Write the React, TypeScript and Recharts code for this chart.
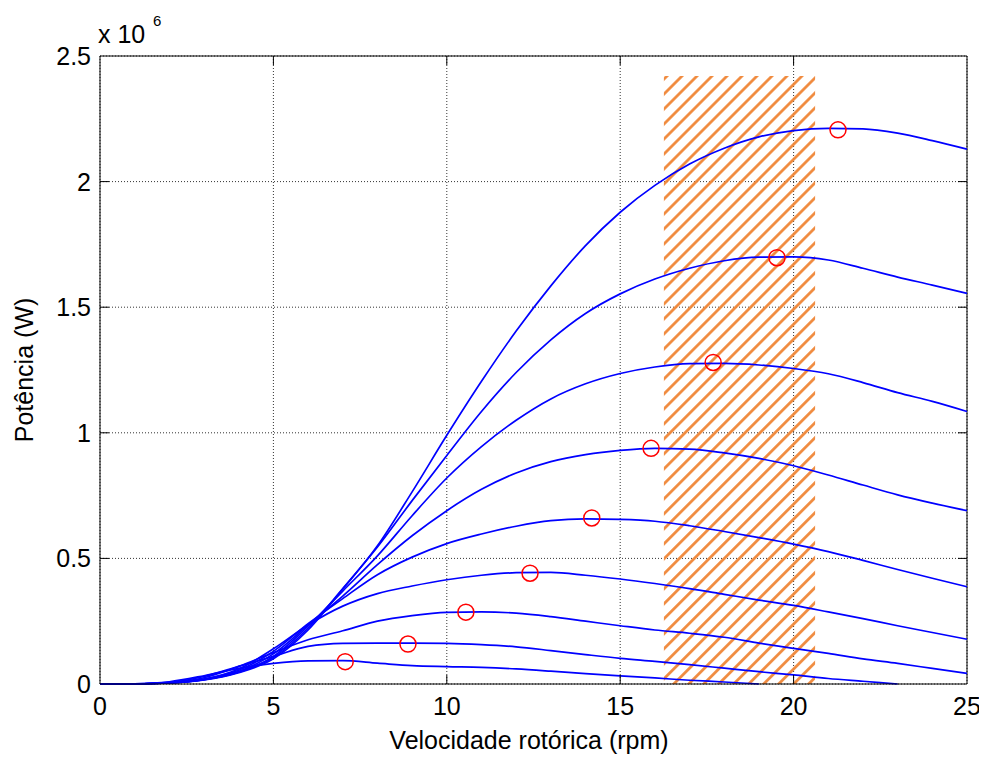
import React from 'react';
import {
  ComposedChart,
  Line,
  Scatter,
  XAxis,
  YAxis,
  CartesianGrid,
  ReferenceArea,
  ReferenceLine,
} from 'recharts';

// rotor speed (rpm)
const rpm = [0, 1, 2, 3, 4, 5, 6, 7, 8, 9, 10, 11, 12, 13, 14, 15, 16, 17, 18, 19, 20, 21, 22, 23, 24, 25];

// power curves (x 10^6 W), one per wind speed
const c1 = [0, 0.001, 0.009, 0.033, 0.062, 0.082, 0.092, 0.093, 0.083, 0.073, 0.069, 0.066, 0.06, 0.051, 0.041, 0.032, 0.024, 0.015, 0.008, 0, null, null, null, null, null, null];
const c2 = [0, 0.0008, 0.007, 0.03, 0.07, 0.11, 0.15, 0.162, 0.163, 0.163, 0.162, 0.157, 0.148, 0.133, 0.117, 0.102, 0.09, 0.077, 0.063, 0.049, 0.036, 0.022, 0.011, 0, null, null];
const c3 = [0, 0.0007, 0.006, 0.025, 0.07, 0.125, 0.176, 0.212, 0.25, 0.272, 0.285, 0.287, 0.282, 0.268, 0.25, 0.232, 0.215, 0.202, 0.186, 0.163, 0.142, 0.122, 0.1, 0.082, 0.062, 0.042];
const c4 = [0, 0.0006, 0.005, 0.02, 0.06, 0.14, 0.235, 0.31, 0.36, 0.39, 0.415, 0.433, 0.443, 0.444, 0.433, 0.418, 0.4, 0.38, 0.357, 0.334, 0.313, 0.287, 0.26, 0.232, 0.205, 0.178];
const c5 = [0, 0.0006, 0.005, 0.019, 0.055, 0.13, 0.24, 0.34, 0.435, 0.505, 0.559, 0.597, 0.628, 0.65, 0.657, 0.655, 0.648, 0.63, 0.607, 0.583, 0.557, 0.527, 0.492, 0.456, 0.421, 0.387];
const c6 = [0, 0.0005, 0.005, 0.018, 0.05, 0.12, 0.235, 0.35, 0.475, 0.59, 0.69, 0.775, 0.84, 0.885, 0.913, 0.93, 0.938, 0.935, 0.92, 0.898, 0.869, 0.832, 0.792, 0.753, 0.72, 0.69];
const c7 = [0, 0.0005, 0.004, 0.017, 0.048, 0.11, 0.23, 0.37, 0.51, 0.67, 0.82, 0.945, 1.05, 1.135, 1.195, 1.236, 1.262, 1.275, 1.276, 1.27, 1.256, 1.235, 1.2, 1.16, 1.125, 1.085];
const c8 = [0, 0.0005, 0.004, 0.017, 0.047, 0.105, 0.222, 0.38, 0.545, 0.73, 0.91, 1.085, 1.24, 1.37, 1.475, 1.553, 1.612, 1.655, 1.685, 1.699, 1.7, 1.688, 1.655, 1.62, 1.588, 1.555];
const c9 = [0, 0.0005, 0.004, 0.016, 0.045, 0.1, 0.215, 0.378, 0.55, 0.765, 0.99, 1.205, 1.405, 1.585, 1.745, 1.878, 1.985, 2.07, 2.133, 2.178, 2.203, 2.212, 2.21, 2.193, 2.163, 2.129];

// maximum power points (red circles)
const peakRpm = [7.07, 8.88, 10.55, 12.4, 14.18, 15.89, 17.68, 19.52, 21.28];
const peakPower = [0.089, 0.159, 0.286, 0.441, 0.661, 0.938, 1.28, 1.697, 2.206];

// hatched operating band
const bandFrom = 16.26;
const bandTo = 20.62;
const bandTop = 2.42;

const xTicks = [0, 5, 10, 15, 20, 25];
const yTicks = [0, 0.5, 1, 1.5, 2, 2.5];

const curves = [c1, c2, c3, c4, c5, c6, c7, c8, c9];
const curveKeys = curves.map((_, i) => `c${i + 1}`);

const table = rpm.map((r, i) => {
  const row: Record<string, number | null> = { rpm: r };
  curves.forEach((c, k) => {
    row[curveKeys[k]] = c[i];
  });
  return row;
});

const peaks = peakRpm.map((r, i) => ({ rpm: r, p: peakPower[i] }));

const W = 979;
const H = 750;
const PL = 92;
const PR = 959;
const PT = 48;
const PB = 676;
const FONT = "'Liberation Sans', Arial, Helvetica, sans-serif";
const TL = 9;

const XTick = (props: any) => {
  const { x, payload } = props;
  const v = payload.value;
  return (
    <g>
      {v !== 0 && v !== 25 && (
        <>
          <line x1={x} x2={x} y1={PB} y2={PB - TL} stroke="#000" strokeWidth={1} />
          <line x1={x} x2={x} y1={PT} y2={PT + TL} stroke="#000" strokeWidth={1} />
        </>
      )}
      <text x={x} y={707} textAnchor="middle" fontSize={25} fill="#000" fontFamily={FONT}>
        {String(v)}
      </text>
    </g>
  );
};

const YTick = (props: any) => {
  const { y, payload } = props;
  const v = payload.value;
  return (
    <g>
      {v !== 0 && v !== 2.5 && (
        <>
          <line x1={PL} x2={PL + TL} y1={y} y2={y} stroke="#000" strokeWidth={1} />
          <line x1={PR} x2={PR - TL} y1={y} y2={y} stroke="#000" strokeWidth={1} />
        </>
      )}
      <text x={83} y={y + 9} textAnchor="end" fontSize={25} fill="#000" fontFamily={FONT}>
        {String(v)}
      </text>
    </g>
  );
};

const Ring = (props: any) => {
  const { cx, cy } = props;
  return <circle cx={cx} cy={cy} r={8} fill="none" stroke="#FF0000" strokeWidth={1.5} />;
};

export default function App() {
  return (
    <div style={{ width: W, height: H, background: '#fff' }}>
      <ComposedChart
        width={W}
        height={H}
        data={table}
        margin={{ top: PT, right: W - PR, bottom: 0, left: 0 }}
      >
        <defs>
          <pattern
            id="hatch"
            width="10.6"
            height="10.6"
            patternUnits="userSpaceOnUse"
            patternTransform="rotate(45)"
          >
            <line x1="5.3" y1="0" x2="5.3" y2="10.6" stroke="#F0883A" strokeWidth="2.7" />
          </pattern>
        </defs>
        <CartesianGrid stroke="#333" strokeDasharray="1 2" strokeWidth={1} />
        <XAxis
          dataKey="rpm"
          type="number"
          domain={[0, 25]}
          ticks={xTicks}
          interval={0}
          height={H - PB}
          tickLine={false}
          axisLine={{ stroke: '#000', strokeWidth: 1 }}
          tick={<XTick />}
        />
        <YAxis
          type="number"
          domain={[0, 2.5]}
          ticks={yTicks}
          interval={0}
          width={PL}
          tickLine={false}
          axisLine={{ stroke: '#000', strokeWidth: 1 }}
          tick={<YTick />}
        />
        <ReferenceArea
          x1={bandFrom}
          x2={bandTo}
          y1={0}
          y2={bandTop}
          fill="url(#hatch)"
          fillOpacity={1}
          stroke="none"
        />
        <ReferenceLine y={2.5} stroke="#000" strokeWidth={1} />
        <ReferenceLine x={25} stroke="#000" strokeWidth={1} />
        {curveKeys.map((k) => (
          <Line
            key={k}
            dataKey={k}
            type="monotone"
            stroke="#0000FF"
            strokeWidth={1.7}
            dot={false}
            activeDot={false}
            isAnimationActive={false}
            connectNulls={false}
          />
        ))}
        <Scatter data={peaks} dataKey="p" shape={<Ring />} isAnimationActive={false} />
        <text x={PL - 2} y={35} fontSize={25} fill="#000" fontFamily={FONT}>
          x 10
        </text>
        <text x={145} y={18} fontSize={15} fill="#000" fontFamily={FONT}>
          6
        </text>
        <text
          x={25}
          y={362}
          transform="rotate(-90, 25, 362)"
          textAnchor="middle"
          fontSize={25}
          fill="#000"
          fontFamily={FONT}
        >
          Potência (W)
        </text>
        <text x={521} y={741} textAnchor="middle" fontSize={25} fill="#000" fontFamily={FONT}>
          Velocidade rotórica (rpm)
        </text>
      </ComposedChart>
    </div>
  );
}
